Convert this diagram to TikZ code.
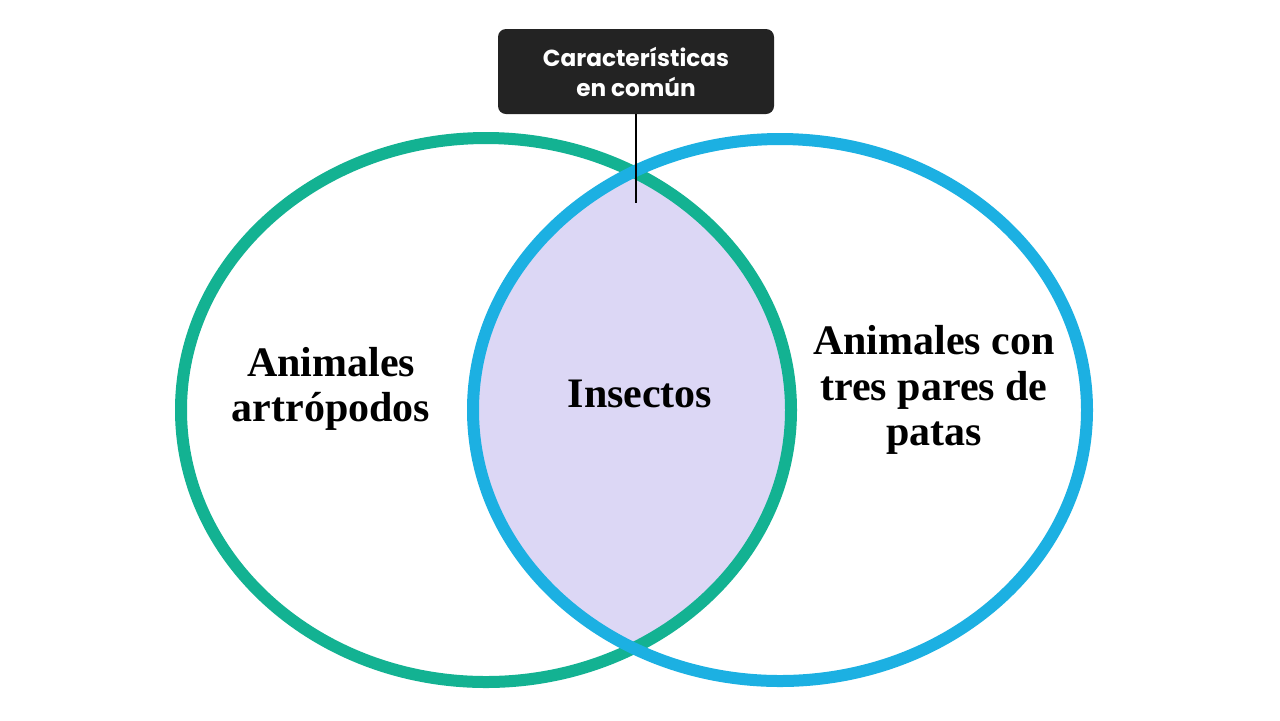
\documentclass[tikz,border=0pt]{standalone}
\usepackage{fontspec}
\setmainfont{Liberation Serif}
\setsansfont{Poppins}
\definecolor{vgreen}{RGB}{19,178,146}
\definecolor{vblue}{RGB}{28,176,226}
\definecolor{vlav}{RGB}{220,215,245}
\definecolor{vbox}{RGB}{35,35,35}
\tikzset{
  lbl/.style={align=center,font=\bfseries\fontsize{21}{22.8}\selectfont,inner sep=0pt},
  ring/.style={line width=6pt},
  tagbox/.style={fill=vbox,rounded corners=4pt,minimum width=138pt,minimum height=42.5pt,
    text=white,align=center,font=\sffamily\bfseries\fontsize{11.6}{15}\selectfont,inner sep=0pt}
}
\begin{document}
\begin{tikzpicture}[x=0.5pt,y=-0.5pt]
\path[use as bounding box,fill=white] (0,0) rectangle (1280,720);
% lens fill
\begin{scope}
\clip (486,410) ellipse [x radius=152.5pt,y radius=136pt];
\fill[vlav] (780,410) ellipse [x radius=153.5pt,y radius=135.5pt];
\end{scope}
\draw[ring,vgreen] (486,410) ellipse [x radius=152.5pt,y radius=136pt];
\draw[ring,vblue] (780,410) ellipse [x radius=153.5pt,y radius=135.5pt];
% labels
\node[lbl] (left) at (331,389) {Animales\\artrópodos};
\node[lbl] (mid) at (640,394) {Insectos};
\node[lbl] (right) at (934,390) {Animales con\\tres pares de\\patas};
% tag
\node[tagbox] (tag) at (636,71.5) {Características\\en común};
\coordinate (tip) at (636,203);
\draw[line width=1.2pt,black] (tag.south) -- (tip);
\end{tikzpicture}
\end{document}
